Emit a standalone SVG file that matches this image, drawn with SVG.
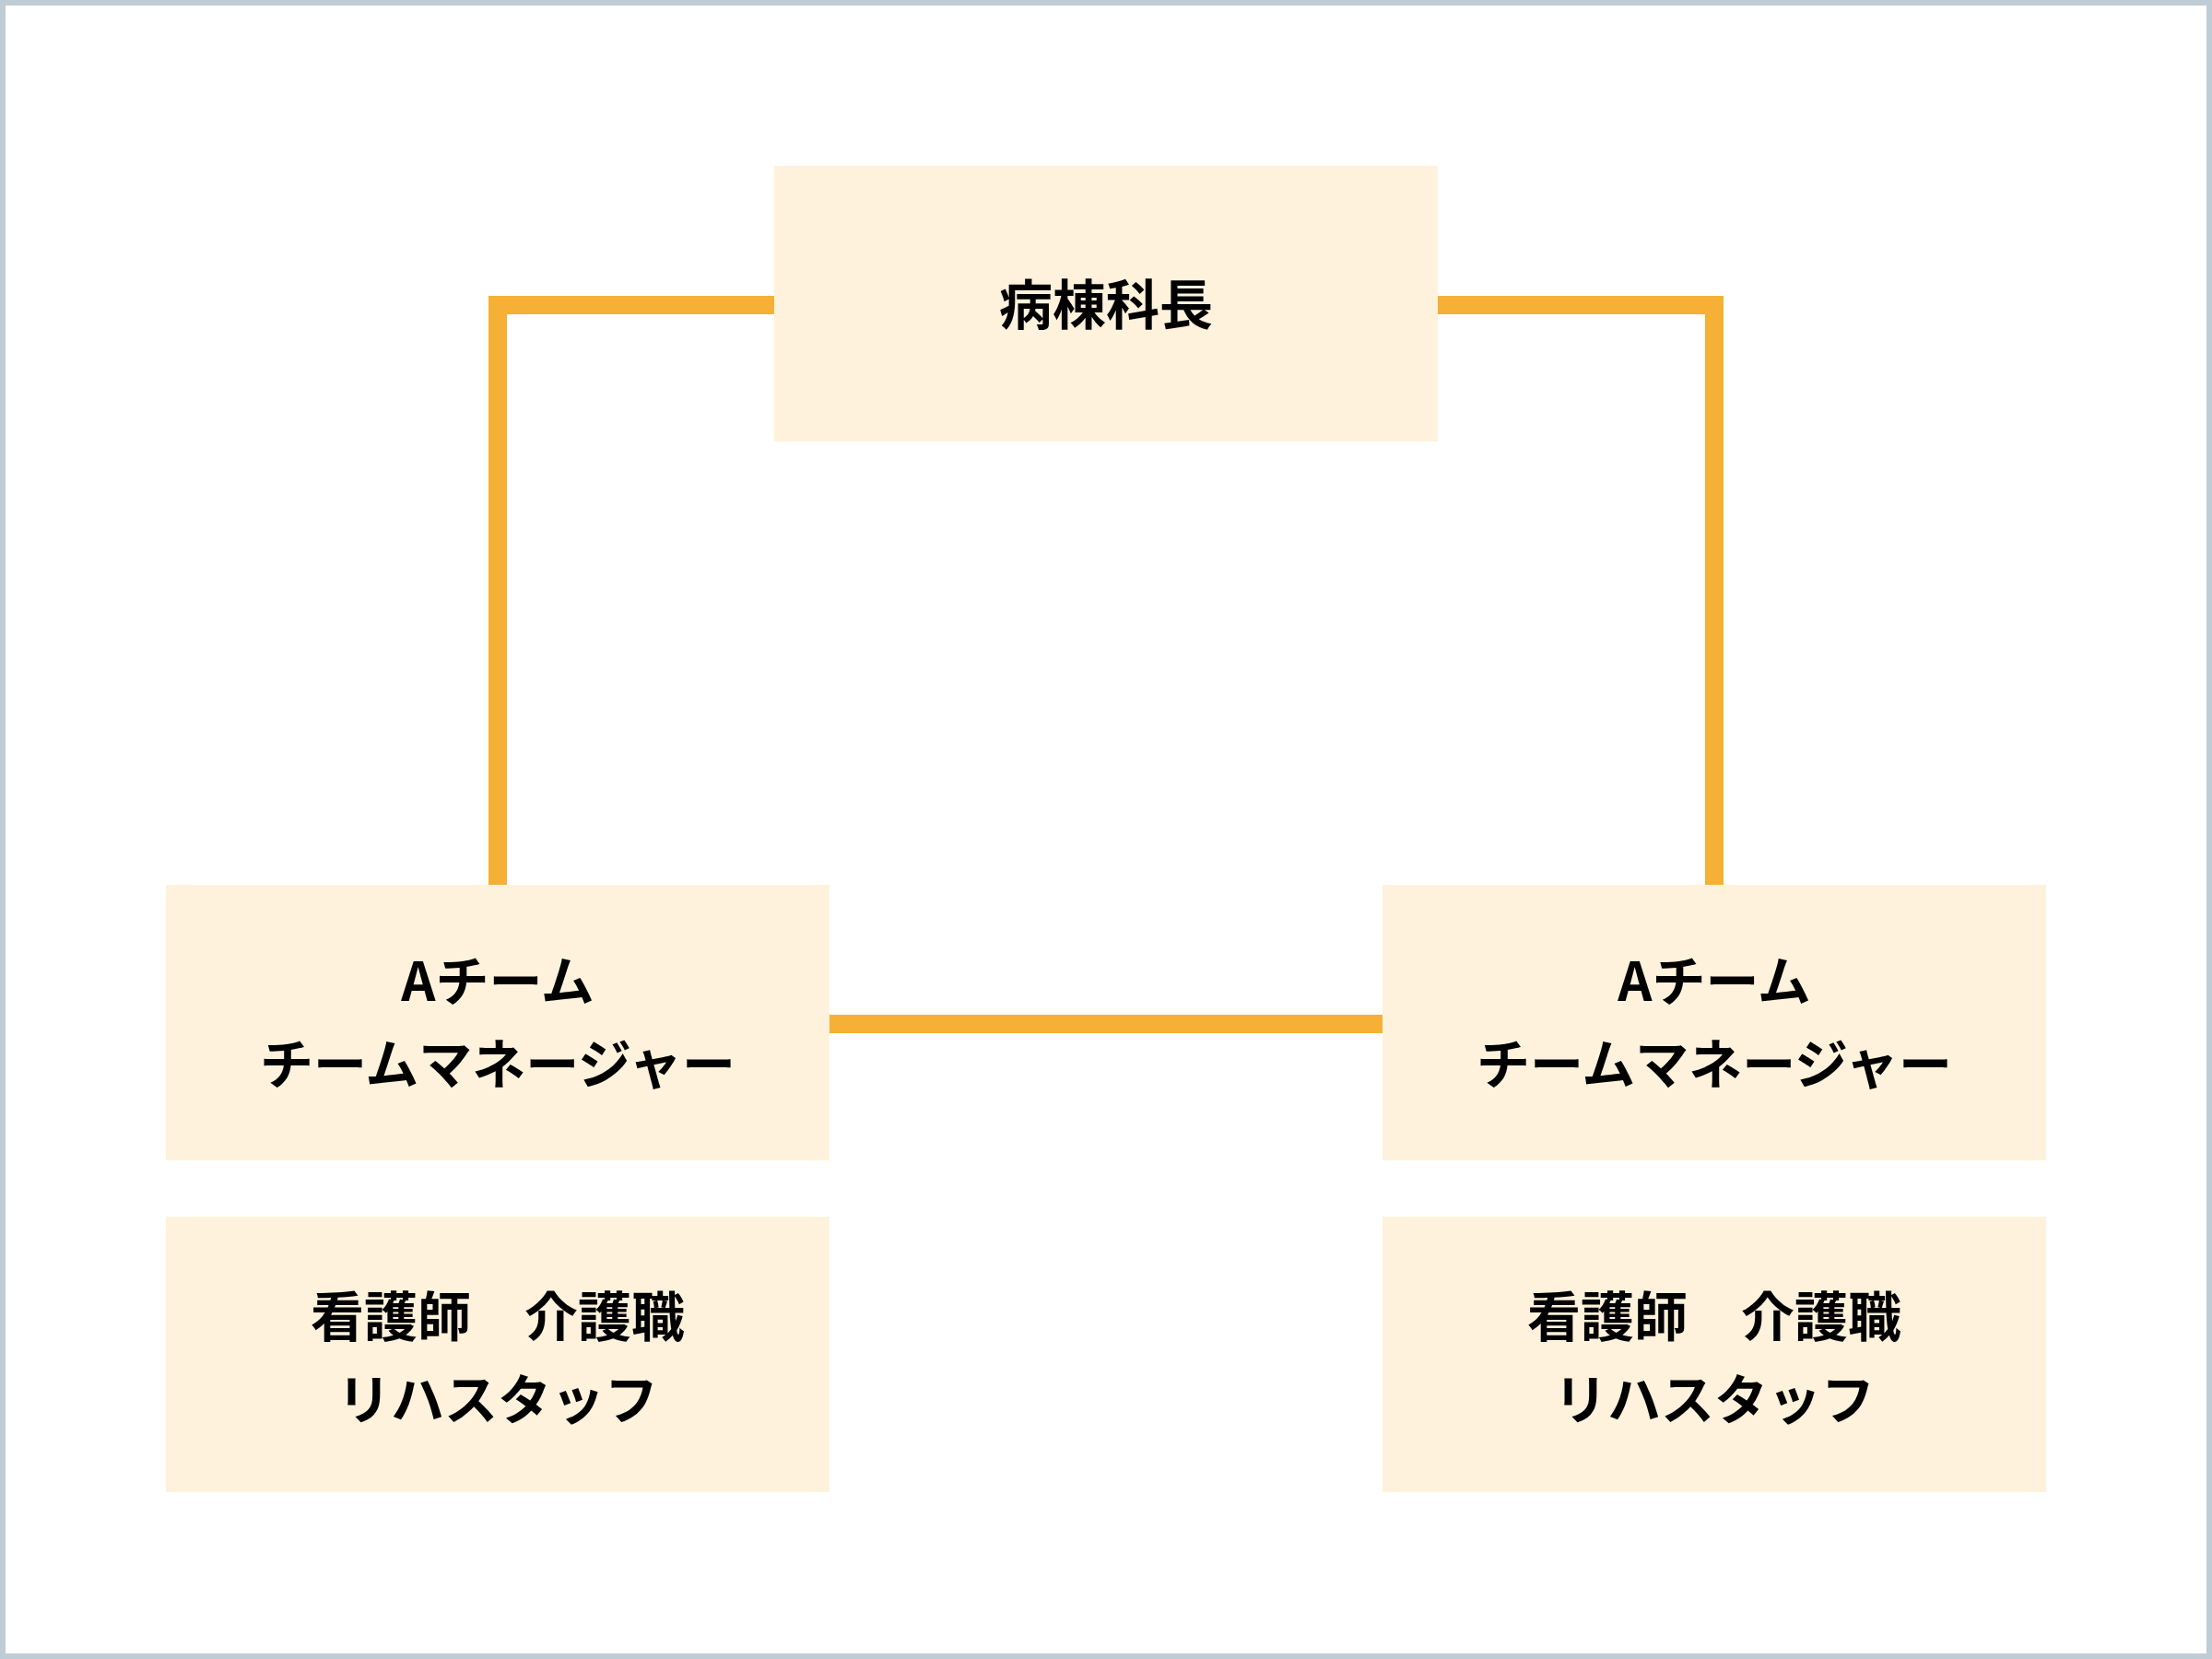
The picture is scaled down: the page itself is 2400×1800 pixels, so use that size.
<svg xmlns="http://www.w3.org/2000/svg" width="2400" height="1800" viewBox="0 0 2400 1800">
<style>
.box{fill:#fef2dc}
.t{font-family:"Noto Sans CJK JP","Noto Sans",sans-serif;font-weight:bold;font-size:58px;fill:#000;text-anchor:middle;dominant-baseline:central}
.c{fill:none;stroke:#f5b035;stroke-width:20;stroke-linejoin:miter}
</style>
<rect x="0" y="0" width="2400" height="1800" fill="#fff"/>
<rect x="3" y="3" width="2394" height="1794" fill="none" stroke="#bfccd5" stroke-width="6"/>
<g id="connectors">
<path class="c" d="M840 331H540V960"/>
<path class="c" d="M1560 331H1860V960"/>
<path class="c" d="M900 1111H1500"/>
</g>
<g id="chief">
<rect class="box" x="840" y="180" width="720" height="299"/>
<text class="t" x="1200" y="327">病棟科長</text>
</g>
<g id="manager-left">
<rect class="box" x="180" y="960" width="720" height="299"/>
<text class="t" x="540" y="1061">Aチーム</text>
<text class="t" x="540" y="1151">チームマネージャー</text>
</g>
<g id="manager-right">
<rect class="box" x="1500" y="960" width="720" height="299"/>
<text class="t" x="1860" y="1061">Aチーム</text>
<text class="t" x="1860" y="1151">チームマネージャー</text>
</g>
<g id="staff-left">
<rect class="box" x="180" y="1320" width="720" height="299"/>
<text class="t" x="540" y="1425">看護師　介護職</text>
<text class="t" x="540" y="1515">リハスタッフ</text>
</g>
<g id="staff-right">
<rect class="box" x="1500" y="1320" width="720" height="299"/>
<text class="t" x="1860" y="1425">看護師　介護職</text>
<text class="t" x="1860" y="1515">リハスタッフ</text>
</g>
</svg>
